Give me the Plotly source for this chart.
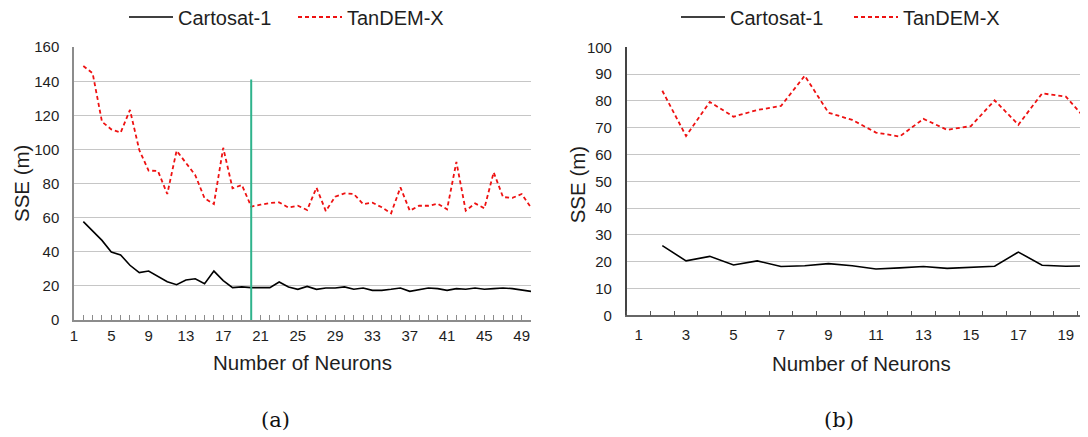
import plotly.graph_objects as go

# ---------------- data ----------------
neurons_a = [2, 3, 4, 5, 6, 7, 8, 9, 10, 11, 12, 13, 14, 15, 16, 17, 18, 19, 20, 21, 22, 23, 24, 25, 26,
             27, 28, 29, 30, 31, 32, 33, 34, 35, 36, 37, 38, 39, 40, 41, 42, 43, 44, 45, 46, 47, 48, 49, 50]
cartosat_a = [57.7, 52.2, 46.7, 39.9, 38.1, 32.1, 27.8, 28.7, 25.8, 22.5, 20.7, 23.5, 24.2, 21.3, 28.7,
              23.1, 19.0, 19.4, 19.0, 19.0, 19.0, 22.3, 19.4, 18.0, 19.7, 18.0, 18.8, 18.8, 19.4, 18.0,
              18.8, 17.4, 17.4, 18.0, 18.8, 16.8, 18.0, 18.8, 18.4, 17.4, 18.4, 18.0, 18.8, 18.0, 18.4,
              18.8, 18.4, 17.4, 16.8]
tandem_a = [149.0, 144.7, 116.3, 111.8, 109.9, 123.2, 99.7, 87.6, 87.4, 73.9, 99.3, 91.9, 85.0, 71.4, 68.0,
            101.0, 77.2, 79.2, 66.5, 67.6, 68.6, 69.0, 65.9, 67.0, 64.5, 77.6, 63.9, 72.3, 74.3, 73.9,
            68.0, 68.8, 66.1, 62.6, 77.8, 64.1, 67.0, 67.0, 68.2, 64.9, 92.7, 64.1, 68.4, 65.5, 86.6,
            72.1, 71.6, 73.9, 65.9]
categories_a = list(range(1, 51))
tick_labels_a = ["1", "5", "9", "13", "17", "21", "25", "29", "33", "37", "41", "45", "49"]
selected_neurons_a = 20
selected_line_top = 141

neurons_b = [2, 3, 4, 5, 6, 7, 8, 9, 10, 11, 12, 13, 14, 15, 16, 17, 18, 19, 20]
cartosat_b = [26.0, 20.3, 22.0, 18.8, 20.3, 18.2, 18.5, 19.3, 18.5, 17.3, 17.7, 18.2, 17.5, 17.9, 18.3,
              23.6, 18.7, 18.3, 18.5]
tandem_b = [83.8, 66.9, 79.6, 74.1, 76.6, 78.1, 89.4, 75.6, 72.9, 68.2, 66.7, 73.3, 69.2, 70.6, 80.2,
            71.1, 82.8, 81.6, 71.6]
tick_labels_b = ["1", "3", "5", "7", "9", "11", "13", "15", "17", "19"]
category_edges_b = [c - 0.5 for c in range(1, 22)]

series_names = ["Cartosat-1", "TanDEM-X"]
x_title = "Number of Neurons"
y_title = "SSE (m)"

# ---------------- style ----------------
W, H = 1088, 437
OFF = 8  # page body margin added by the browser
FONT = "Liberation Sans"
BLACK = "#000000"
RED = "#ee1111"
GRID = "#c6c6c6"
AXIS = "#8c8c8c"
TXT = "#1e1e1e"


def px_x(p):
    # screen x pixel -> paper fraction
    return (p - OFF) / W


def px_y(p):
    # screen y pixel (from top) -> paper fraction
    return 1 - (p - OFF) / H


fig = go.Figure()

# Left subplot (a)
fig.add_trace(go.Scatter(x=neurons_a, y=cartosat_a, mode="lines", name=series_names[0],
                         line=dict(color=BLACK, width=1.6), xaxis="x", yaxis="y", legend="legend"))
fig.add_trace(go.Scatter(x=neurons_a, y=tandem_a, mode="lines", name=series_names[1],
                         line=dict(color=RED, width=1.8, dash="4px,3px"), xaxis="x", yaxis="y",
                         legend="legend"))
# Right subplot (b)
fig.add_trace(go.Scatter(x=neurons_b, y=cartosat_b, mode="lines", name=series_names[0],
                         line=dict(color=BLACK, width=1.6), xaxis="x2", yaxis="y2", legend="legend2"))
fig.add_trace(go.Scatter(x=neurons_b, y=tandem_b, mode="lines", name=series_names[1],
                         line=dict(color=RED, width=1.8, dash="4px,3px"), xaxis="x2", yaxis="y2",
                         legend="legend2"))

# marker line at selected number of neurons
fig.add_shape(type="line", xref="x", yref="y", x0=selected_neurons_a, x1=selected_neurons_a,
              y0=0, y1=selected_line_top, line=dict(color="#2fb38c", width=2))

tickfont = dict(family=FONT, size=15, color=TXT)
titlefont = dict(family=FONT, size=20.5, color=TXT)

left_tickvals = categories_a
left_ticktext = [str(c) if str(c) in tick_labels_a else "" for c in categories_a]

fig.update_layout(
    width=W, height=H,
    margin=dict(l=0, r=0, t=0, b=0, autoexpand=False),
    paper_bgcolor="white", plot_bgcolor="white",
    xaxis=dict(domain=[px_x(74), px_x(531)], range=[1, 50], anchor="y", automargin=False,
               tickmode="array", tickvals=left_tickvals, ticktext=left_ticktext,
               ticks="inside", ticklen=5, tickcolor=AXIS, tickwidth=1,
               showline=True, linecolor=AXIS, linewidth=1.5, showgrid=False, zeroline=False,
               tickfont=tickfont, ticklabelstandoff=1,
               title=dict(text=x_title, font=titlefont, standoff=13)),
    yaxis=dict(domain=[px_y(320), px_y(47.2)], range=[0, 160], dtick=20, anchor="x", automargin=False,
               showline=True, linecolor=AXIS, linewidth=1.5, showgrid=True, gridcolor=GRID,
               gridwidth=1, zeroline=False, ticks="", tickfont=tickfont, ticklabelstandoff=10),
    xaxis2=dict(domain=[px_x(626.7), 1.0], range=[0.5, 20.27], anchor="y2", automargin=False,
                tickmode="array", tickvals=[int(t) for t in tick_labels_b], ticktext=tick_labels_b,
                ticks="", showline=True, linecolor="#666666", linewidth=1.5, showgrid=False,
                zeroline=False, tickfont=tickfont, ticklabelstandoff=5,
                minor=dict(tickmode="array", tickvals=category_edges_b, ticks="inside", ticklen=5,
                           tickcolor="#555555", tickwidth=1, showgrid=False),
                title=dict(text=x_title, font=titlefont, standoff=15)),
    yaxis2=dict(domain=[px_y(315.3), px_y(47.3)], range=[0, 100], dtick=10, anchor="x2", automargin=False,
                showline=True, linecolor="#444444", linewidth=1.5, showgrid=True, gridcolor=GRID,
                gridwidth=1, zeroline=False, ticks="", tickfont=tickfont, ticklabelstandoff=10),
    legend=dict(orientation="h", x=px_x(124), y=px_y(-2.5), xanchor="left", yanchor="top",
                font=dict(family=FONT, size=20, color=TXT), bgcolor="rgba(0,0,0,0)",
                itemwidth=44, tracegroupgap=0, entrywidth=110),
    legend2=dict(orientation="h", x=px_x(676), y=px_y(-2.5), xanchor="left", yanchor="top",
                 font=dict(family=FONT, size=20, color=TXT), bgcolor="rgba(0,0,0,0)",
                 itemwidth=44, tracegroupgap=0, entrywidth=114),
    annotations=[
        dict(text=y_title, xref="paper", yref="paper", x=px_x(21), y=px_y(184), showarrow=False,
             textangle=-90, font=titlefont, xanchor="center", yanchor="middle"),
        dict(text=y_title, xref="paper", yref="paper", x=px_x(578.3), y=px_y(185), showarrow=False,
             textangle=-90, font=titlefont, xanchor="center", yanchor="middle"),
        dict(text="(a)", xref="paper", yref="paper", x=px_x(275), y=px_y(420), showarrow=False,
             font=dict(family="DejaVu Serif", size=21, color="#111111"), xanchor="center",
             yanchor="middle"),
        dict(text="(b)", xref="paper", yref="paper", x=px_x(839), y=px_y(420), showarrow=False,
             font=dict(family="DejaVu Serif", size=21, color="#111111"), xanchor="center",
             yanchor="middle"),
    ],
)

fig.write_html("out.html")
